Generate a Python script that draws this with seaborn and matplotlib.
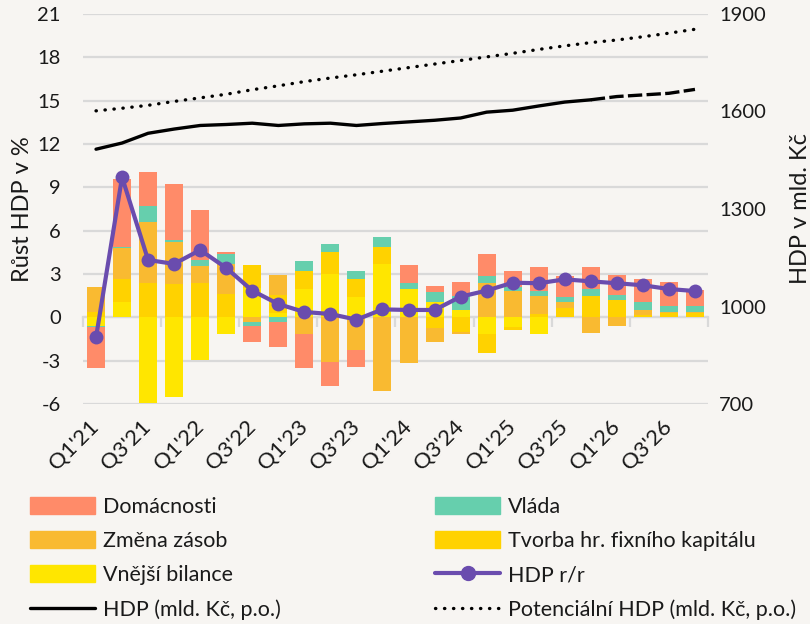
import numpy as np
import matplotlib.pyplot as plt
from matplotlib.patches import Patch
from matplotlib.lines import Line2D
import seaborn as sns

# %%
quarters = ["Q1'21", "Q2'21", "Q3'21", "Q4'21", "Q1'22", "Q2'22", "Q3'22", "Q4'22",
            "Q1'23", "Q2'23", "Q3'23", "Q4'23", "Q1'24", "Q2'24", "Q3'24", "Q4'24",
            "Q1'25", "Q2'25", "Q3'25", "Q4'25", "Q1'26", "Q2'26", "Q3'26", "Q4'26"]

# contributions to growth (p.p.)
vnejsi = [-0.6, 1.08, -5.96, -5.54, -2.93, -1.18, 2.0, 0.28, 1.98, 3.02, 1.43, 3.72,
          1.98, 1.08, 0.53, -1.13, -0.65, -1.18, 0, 0, 0, 0, 0, 0]
tvorba = [0.4, 1.6, 2.4, 2.29, 2.4, 1.64, 1.65, 1.29, 1.25, 1.52, 1.25, 1.18,
          0, -0.76, -1.04, -1.36, -0.25, 0.25, 0.67, 1.5, 1.22, 0.14, 0.28, 0.28]
zmena = [1.73, 2.12, 4.23, 2.91, 1.18, 2.06, -0.3, 1.39, -1.13, -3.12, -2.24, -5.13,
         -3.19, -0.97, -0.14, 2.4, 1.85, 1.25, 0.42, -1.06, -0.62, 0.39, 0.1, 0.1]
vlada = [-0.07, 0.1, 1.11, 0.12, 0.42, 0.69, -0.3, -0.3, 0.69, 0.55, 0.55, 0.69,
         0.42, 0.69, 0.97, 0.48, 0.28, 0.35, 0.35, 0.48, 0.35, 0.55, 0.42, 0.42]
domacnosti = [-2.85, 4.68, 2.29, 3.88, 3.46, 0.16, -1.13, -1.75, -2.4, -1.66, -1.22, 0.0,
              1.25, 0.42, 0.97, 1.52, 1.11, 1.66, 1.39, 1.52, 1.39, 1.59, 1.66, 1.11]

hdp_rr = [-1.39, 9.7, 3.97, 3.7, 4.66, 3.42, 1.85, 0.92, 0.37, 0.23, -0.16, 0.55,
          0.51, 0.51, 1.43, 1.85, 2.4, 2.36, 2.63, 2.49, 2.36, 2.22, 1.96, 1.82]

# levels (mld. Kc, right axis)
hdp = [1484, 1503, 1533, 1546, 1557, 1560, 1564, 1557, 1562, 1564, 1557, 1563,
       1568, 1573, 1580, 1598, 1604, 1617, 1629, 1636, 1646, 1651, 1656, 1668]
potencialni = [1602, 1610, 1619, 1631, 1642, 1653, 1667, 1679, 1692, 1703, 1713, 1724,
               1735, 1746, 1757, 1768, 1779, 1791, 1802, 1812, 1820, 1830, 1841, 1853]
n_actual = 20  # HDP solid up to Q4'25, then dashed

# %%
sns.set_style("white")
plt.rcParams['font.family'] = ['Lato', 'DejaVu Sans']
plt.rcParams['axes.unicode_minus'] = False
bg = '#F7F5F2'
grid_c = '#D9D9D9'
txt_c = '#1a1a1a'
purple = '#6A4CAE'

names = ["Vnější bilance", "Tvorba hr. fixního kapitálu", "Změna zásob", "Vláda", "Domácnosti"]
colors = ['#FFE600', '#FFD200', '#F9BA31', '#66CFAD', '#FF8B69']
vals = np.array([vnejsi, tvorba, zmena, vlada, domacnosti])
pos = np.cumsum(np.clip(vals, 0, None), axis=0)
neg = np.cumsum(np.clip(vals, None, 0), axis=0)
idx = np.arange(len(quarters))

fig = plt.figure(figsize=(8.1, 6.24), dpi=100, facecolor=bg)
ax = fig.add_axes([83 / 810, 1 - 404 / 624, 625 / 810, 390 / 624])
ax.set_facecolor(bg)

for k in reversed(range(len(names))):
    for stack in (pos, neg):
        sns.barplot(x=quarters, y=stack[k], color=colors[k], width=0.69, saturation=1,
                    errorbar=None, linewidth=0, ax=ax)

sns.lineplot(x=idx, y=hdp_rr, color=purple, lw=3, marker='o', markersize=10,
             markeredgewidth=0, ax=ax, zorder=5)

ax.set_ylim(-6, 21)
ax.set_yticks(np.arange(-6, 22, 3))
ax.set_xlim(-0.5, 23.5)
ax.set_xticks(idx[::2])
ax.set_xticklabels(quarters[::2], rotation=45, ha='right', va='center',
                   rotation_mode='anchor')
ax.tick_params(axis='x', length=0, pad=14, labelsize=16, labelcolor=txt_c)
ax.tick_params(axis='y', length=0, pad=16, labelsize=14.5, labelcolor=txt_c)
ax.yaxis.grid(True, color=grid_c, lw=1.6)
ax.set_axisbelow(True)
ax.set_xlabel('')
ax.set_ylabel('Růst HDP v %', fontsize=17, color=txt_c)
ax.yaxis.set_label_coords(-0.08, 0.5)
for s in ax.spines.values():
    s.set_visible(False)

# zero axis with category tick marks
sec = ax.secondary_xaxis(6 / 27)
sec.set_xticks(np.arange(-0.5, 24, 3))
sec.tick_params(length=7, width=1.6, color=grid_c, labelbottom=False)
sec.spines['bottom'].set_color(grid_c)
sec.spines['bottom'].set_linewidth(1.6)

# %%
ax2 = ax.twinx()
sns.lineplot(x=idx[:n_actual], y=hdp[:n_actual], color='black', lw=2.4, ax=ax2)
sns.lineplot(x=idx[n_actual - 1:], y=hdp[n_actual - 1:], color='black', lw=2.4,
             linestyle=(0, (4.3, 1.3)), ax=ax2)
sns.lineplot(x=idx, y=potencialni, color='black', lw=2.4, linestyle=(0, (0.1, 2.6)),
             dash_capstyle='round', ax=ax2)
ax2.set_ylim(700, 1900)
ax2.set_yticks(range(700, 1901, 300))
ax2.tick_params(axis='y', length=0, pad=8, labelsize=14.5, labelcolor=txt_c)
ax2.set_ylabel('HDP v mld. Kč', fontsize=17, color=txt_c)
ax2.yaxis.set_label_coords(1.131, 0.5)
for s in ax2.spines.values():
    s.set_visible(False)

# %%
handles = [
    Patch(color=colors[4], label='Domácnosti'),
    Patch(color=colors[2], label='Změna zásob'),
    Patch(color=colors[0], label='Vnější bilance'),
    Line2D([], [], color='black', lw=2.4, label='HDP (mld. Kč, p.o.)'),
    Patch(color=colors[3], label='Vláda'),
    Patch(color=colors[1], label='Tvorba hr. fixního kapitálu'),
    Line2D([], [], color=purple, lw=3, marker='o', markersize=10, label='HDP r/r'),
    Line2D([], [], color='black', lw=2.4, linestyle=(0, (0.1, 2.6)),
           dash_capstyle='round', label='Potenciální HDP (mld. Kč, p.o.)'),
]
leg = fig.legend(handles=handles, ncol=2, loc='upper left',
                 bbox_to_anchor=(30 / 810, 1 - 497 / 624), frameon=False,
                 fontsize=15.5, handlelength=3.0, handleheight=0.84, handletextpad=0.37,
                 labelspacing=0.66, columnspacing=7.2, borderpad=0, borderaxespad=0)
for t in leg.get_texts():
    t.set_color(txt_c)

fig.savefig('out.png', dpi=100, facecolor=bg)
